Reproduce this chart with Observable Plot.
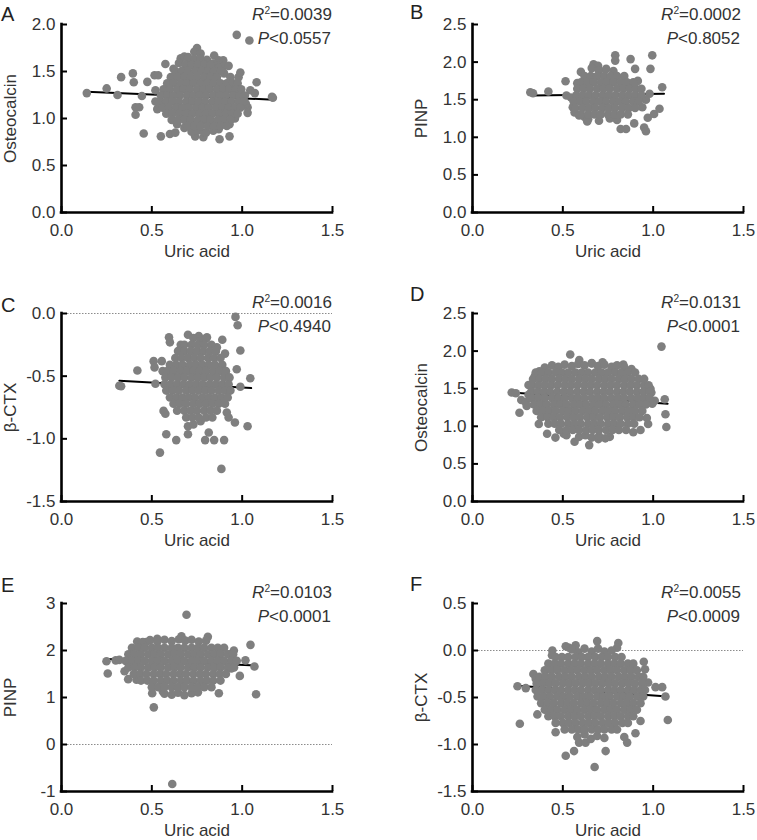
<!DOCTYPE html>
<html>
<head>
<meta charset="utf-8">
<script src="https://cdn.jsdelivr.net/npm/d3@7"></script>
<script src="https://cdn.jsdelivr.net/npm/@observablehq/plot@0.6"></script>
<style>
html,body{margin:0;padding:0;background:#fff;overflow:hidden;}
#root{position:relative;width:757px;height:840px;overflow:hidden;font-family:"Liberation Sans",Arial,sans-serif;}
.panel{position:absolute;}
.letter{position:absolute;font-size:20px;line-height:20px;color:#222;}
.stat{position:absolute;font-size:17px;line-height:17px;color:#333;text-align:right;white-space:nowrap;}
.stat sup{font-size:0.6em;line-height:0;vertical-align:0.6em;}
</style>
</head>
<body>
<div id="root"></div>
<script>
// ---------- labels ----------
const panelLetters = ["A", "B", "C", "D", "E", "F"];
const xLabel = "Uric acid";
const yLabels = ["Osteocalcin", "PINP", "β-CTX", "Osteocalcin", "PINP", "β-CTX"];
const r2Values = ["0.0039", "0.0002", "0.0016", "0.0131", "0.0103", "0.0055"];
const pValues = ["0.0557", "0.8052", "0.4940", "0.0001", "0.0001", "0.0009"];

// ---------- axes ----------
const xDomain = [0, 1.5];
const xTicks = [0, 0.5, 1.0, 1.5];
const yDomains = [[0, 2], [0, 2.5], [-1.5, 0], [0, 2.5], [-1, 3], [-1.5, 0.5]];
const yTicksList = [
  [0, 0.5, 1.0, 1.5, 2.0],
  [0, 0.5, 1.0, 1.5, 2.0, 2.5],
  [-1.5, -1.0, -0.5, 0],
  [0, 0.5, 1.0, 1.5, 2.0, 2.5],
  [-1, 0, 1, 2, 3],
  [-1.5, -1.0, -0.5, 0, 0.5]
];
const zeroLine = [false, false, true, false, true, true];

// ---------- regression lines (endpoints) ----------
const fitA = [[0.14, 1.285], [1.175, 1.20]];
const fitB = [[0.33, 1.555], [1.06, 1.578]];
const fitC = [[0.32, -0.536], [1.05, -0.595]];
const fitD = [[0.217, 1.45], [1.08, 1.30]];
const fitE = [[0.25, 1.82], [1.08, 1.68]];
const fitF = [[0.25, -0.375], [1.08, -0.49]];

// ---------- individually read points [uric acid, marker] ----------
const outA = [[0.14,1.27],[0.25,1.32],[0.31,1.25],[0.33,1.44],[0.395,1.48],[0.40,1.385],[0.41,1.12],[0.43,1.12],[0.41,1.04],[0.445,1.24],[0.455,0.84],[0.475,1.39],[0.515,1.46],[0.535,1.46],[0.52,1.30],[0.55,0.81],[0.60,0.835],[0.63,0.85],[0.575,1.58],[0.66,1.64],[0.68,1.66],[0.75,1.75],[0.72,0.89],[0.74,0.81],[0.81,1.60],[0.845,1.67],[0.87,1.62],[0.895,1.62],[0.90,1.56],[0.925,1.56],[0.97,1.89],[1.04,1.83],[0.875,0.78],[0.93,0.81],[0.785,0.80],[0.795,0.85],[1.03,1.12],[1.03,1.06],[1.045,1.30],[1.08,1.385],[1.07,1.27],[1.165,1.23],[1.17,1.22],[0.98,1.44],[0.99,1.49],[0.53,1.10],[0.52,1.18],[1.02,1.16],
  [0.735,1.71],[0.77,1.69],[0.70,1.655],[0.805,1.625],[0.65,1.59],[0.84,1.585],[0.62,1.53],[0.87,1.54],[0.90,1.48],
  [0.72,0.86],[0.76,0.875],[0.80,0.85],[0.84,0.87],[0.87,0.885],[0.68,0.90],[0.64,0.94],[0.93,0.94],[0.96,1.00]];
const outB = [[0.32,1.60],[0.335,1.585],[0.42,1.61],[0.515,1.745],[0.52,1.555],[0.545,1.53],[0.59,1.29],[0.635,1.21],[0.60,1.87],[0.62,1.75],[0.67,1.97],[0.695,1.95],[0.79,2.09],[0.79,2.02],[0.875,2.04],[0.90,1.91],[0.995,2.09],[0.985,1.91],[0.82,1.11],[0.85,1.11],[0.895,1.185],[0.95,1.13],[0.96,1.08],[0.97,1.26],[1.005,1.31],[1.035,1.38],[1.05,1.665],[0.98,1.58],[0.775,1.27],[0.96,1.50],[0.94,1.40],[0.555,1.40],[0.565,1.33],[0.62,1.27],
  [0.66,1.92],[0.70,1.89],[0.74,1.91],[0.78,1.88],[0.64,1.24],[0.70,1.22],[0.76,1.25],[0.80,1.23],[0.58,1.72],[0.915,1.75]];
const outC = [[0.32,-0.576],[0.33,-0.58],[0.42,-0.455],[0.51,-0.38],[0.515,-0.43],[0.52,-0.56],[0.565,-0.777],[0.575,-0.80],[0.58,-0.964],[0.635,-1.01],[0.545,-1.11],[0.70,-0.964],[0.70,-0.90],[0.795,-1.01],[0.845,-1.01],[0.815,-0.95],[0.90,-1.01],[0.885,-1.24],[0.96,-0.87],[1.03,-0.90],[0.963,-0.027],[0.975,-0.094],[0.99,-0.295],[0.97,-0.445],[1.045,-0.517],[0.99,-0.584],[0.595,-0.19],[0.60,-0.23],[0.70,-0.17],[0.76,-0.18],[0.805,-0.19],[0.89,-0.21],[0.905,-0.32],[0.915,-0.79],[0.925,-0.83],[0.555,-0.38],[0.56,-0.46],
  [0.73,-0.195],[0.77,-0.215],[0.80,-0.20],[0.73,-0.885],[0.77,-0.86],[0.66,-0.25],[0.86,-0.27]];
const outD = [[0.217,1.45],[0.24,1.44],[0.26,1.18],[0.27,1.35],[0.294,1.32],[0.30,1.27],[0.31,1.42],[0.367,1.03],[0.413,0.90],[0.459,0.85],[0.505,0.90],[0.52,0.88],[0.565,0.795],[0.646,0.75],[0.541,1.955],[0.591,1.88],[0.66,1.84],[0.72,1.85],[0.835,1.82],[0.88,1.76],[1.046,2.06],[1.064,1.36],[1.068,1.16],[1.073,0.99],[1.009,1.34],[0.972,1.03],[0.89,0.92],[0.697,0.83],[0.76,0.86],[0.93,0.95],[0.995,1.30],[0.965,1.11],[0.37,1.73],[0.345,1.67],
  [0.40,1.78],[0.44,1.81],[0.475,1.79],[0.51,1.82],[0.55,1.80],[0.585,1.83],[0.62,1.81],[0.66,1.835],[0.695,1.80],[0.73,1.82],[0.77,1.79],[0.80,1.81],[0.84,1.785],[0.59,0.86],[0.625,0.88],[0.66,0.85],[0.70,0.87],[0.735,0.84],[0.31,1.55],[0.32,1.38],[0.99,1.45],[0.985,1.50]];
const outE = [[0.249,1.77],[0.256,1.51],[0.30,1.79],[0.32,1.80],[0.349,1.56],[0.369,1.39],[0.415,1.38],[0.419,2.19],[0.469,2.18],[0.502,1.09],[0.511,0.79],[0.561,1.13],[0.613,-0.84],[0.692,2.76],[0.664,2.30],[0.81,2.29],[0.871,1.09],[0.954,2.0],[0.987,1.46],[1.018,1.79],[1.046,2.12],[1.068,1.66],[1.077,1.07],[0.53,2.25],[0.94,1.62],[0.93,1.92],[0.96,1.78],
  [0.45,2.18],[0.49,2.22],[0.53,2.19],[0.57,2.23],[0.61,2.20],[0.65,2.24],[0.685,2.21],[0.72,2.23],[0.76,2.19],[0.80,2.21],[0.57,1.08],[0.61,1.06],[0.645,1.10],[0.68,1.05],[0.72,1.09],[0.755,1.11]];
const outF = [[0.249,-0.38],[0.295,-0.40],[0.262,-0.78],[0.337,-0.25],[0.35,-0.30],[0.387,-0.30],[0.359,-0.68],[0.442,0.0],[0.44,-0.05],[0.516,0.045],[0.535,0.03],[0.571,0.055],[0.69,0.10],[0.807,0.08],[0.80,0.03],[0.516,-1.12],[0.562,-1.07],[0.676,-1.24],[0.737,-1.07],[0.856,-0.98],[0.902,-0.88],[0.948,-0.12],[0.955,-0.20],[0.972,-0.34],[1.013,-0.39],[1.05,-0.39],[1.068,-0.49],[1.081,-0.74],[0.59,-0.98],[0.626,-0.98],[0.46,-0.87],[0.93,-0.75],[0.84,-0.92],
  [0.55,0.01],[0.585,-0.02],[0.62,0.02],[0.66,-0.01],[0.695,0.02],[0.73,-0.01],[0.77,0.0],[0.58,-0.92],[0.62,-0.89],[0.655,-0.94],[0.69,-0.91],[0.73,-0.93]];

// ---------- dense cores: [marker value, [uric acid values...]] ----------
const blobA = [
  [1.635,[0.70,0.735,0.77]],
  [1.57,[0.685,0.72,0.755,0.79,0.825]],
  [1.505,[0.63,0.665,0.70,0.74,0.775,0.81,0.845,0.88]],
  [1.44,[0.605,0.64,0.68,0.715,0.75,0.79,0.825,0.86,0.935]],
  [1.375,[0.585,0.62,0.66,0.695,0.73,0.77,0.805,0.84,0.88,0.915,0.95,0.975]],
  [1.31,[0.565,0.60,0.64,0.675,0.71,0.75,0.785,0.82,0.86,0.895,0.93,0.965,0.995]],
  [1.245,[0.55,0.585,0.62,0.655,0.695,0.73,0.765,0.80,0.84,0.875,0.91,0.95,0.985,1.015]],
  [1.18,[0.545,0.58,0.615,0.65,0.69,0.725,0.76,0.795,0.835,0.87,0.905,0.94,0.98,1.01]],
  [1.115,[0.56,0.595,0.635,0.67,0.705,0.745,0.78,0.815,0.855,0.89,0.925,0.96,0.99]],
  [1.05,[0.58,0.615,0.655,0.69,0.725,0.765,0.80,0.835,0.875,0.91,0.945,0.975]],
  [0.985,[0.61,0.645,0.68,0.715,0.755,0.79,0.825,0.865,0.90,0.935]],
  [0.92,[0.70,0.735,0.77,0.81,0.845,0.88,0.915]]
];
const blobB = [
  [1.815,[0.62,0.655,0.69,0.73,0.765,0.80,0.84]],
  [1.73,[0.60,0.635,0.67,0.71,0.745,0.78,0.82,0.855,0.89]],
  [1.645,[0.58,0.615,0.65,0.69,0.725,0.76,0.80,0.835,0.87,0.905,0.935]],
  [1.56,[0.575,0.61,0.645,0.68,0.72,0.755,0.79,0.83,0.865,0.90,0.935]],
  [1.475,[0.56,0.595,0.63,0.67,0.705,0.74,0.78,0.815,0.85,0.89,0.92]],
  [1.39,[0.57,0.61,0.645,0.68,0.72,0.755,0.79,0.83,0.865,0.90]],
  [1.305,[0.60,0.64,0.675,0.71,0.75,0.785,0.82,0.86]]
];
const blobC = [
  [-0.25,[0.68,0.72,0.755,0.79,0.83]],
  [-0.30,[0.645,0.68,0.715,0.75,0.785,0.82,0.855]],
  [-0.355,[0.63,0.665,0.70,0.735,0.77,0.81,0.845,0.88]],
  [-0.41,[0.60,0.635,0.67,0.71,0.745,0.78,0.815,0.85,0.89]],
  [-0.46,[0.585,0.62,0.66,0.695,0.73,0.765,0.80,0.84,0.875,0.91]],
  [-0.51,[0.575,0.61,0.645,0.68,0.72,0.755,0.79,0.825,0.86,0.90,0.93]],
  [-0.565,[0.57,0.605,0.64,0.675,0.71,0.745,0.78,0.82,0.855,0.89,0.925]],
  [-0.615,[0.58,0.615,0.65,0.69,0.725,0.76,0.795,0.83,0.87,0.905,0.935]],
  [-0.67,[0.60,0.635,0.67,0.705,0.74,0.78,0.815,0.85,0.885,0.92]],
  [-0.72,[0.62,0.655,0.69,0.73,0.765,0.80,0.835,0.87,0.905]],
  [-0.775,[0.64,0.68,0.715,0.75,0.79,0.825,0.86]],
  [-0.83,[0.69,0.725,0.76,0.80,0.835]]
];
const blobD = [
  [1.715,[0.35,0.385,0.42,0.46,0.495,0.53,0.57,0.605,0.64,0.68,0.715,0.75,0.79,0.825,0.86,0.90]],
  [1.63,[0.335,0.37,0.405,0.44,0.48,0.515,0.55,0.59,0.625,0.66,0.70,0.735,0.77,0.81,0.845,0.88,0.92,0.95]],
  [1.545,[0.33,0.365,0.40,0.435,0.47,0.51,0.545,0.58,0.62,0.655,0.69,0.73,0.765,0.80,0.84,0.875,0.91,0.95,0.975]],
  [1.46,[0.325,0.36,0.395,0.43,0.47,0.505,0.54,0.58,0.615,0.65,0.69,0.725,0.76,0.80,0.835,0.87,0.91,0.945,0.98]],
  [1.375,[0.33,0.365,0.40,0.44,0.475,0.51,0.55,0.585,0.62,0.66,0.695,0.73,0.77,0.805,0.84,0.88,0.915,0.95,0.98]],
  [1.29,[0.34,0.375,0.41,0.45,0.485,0.52,0.56,0.595,0.63,0.67,0.705,0.74,0.78,0.815,0.85,0.89,0.925,0.96]],
  [1.205,[0.355,0.39,0.425,0.46,0.50,0.535,0.57,0.61,0.645,0.68,0.72,0.755,0.79,0.83,0.865,0.90,0.94]],
  [1.12,[0.38,0.415,0.45,0.485,0.525,0.56,0.595,0.635,0.67,0.705,0.745,0.78,0.815,0.855,0.89,0.925]],
  [1.035,[0.42,0.455,0.49,0.53,0.565,0.60,0.64,0.675,0.71,0.75,0.785,0.82,0.86,0.895]],
  [0.95,[0.48,0.52,0.555,0.59,0.63,0.665,0.70,0.74,0.775,0.81,0.85]]
];
const blobE = [
  [2.06,[0.39,0.425,0.46,0.50,0.535,0.57,0.61,0.645,0.68,0.72,0.755,0.79,0.83,0.865,0.90]],
  [1.92,[0.37,0.405,0.44,0.48,0.515,0.55,0.59,0.625,0.66,0.70,0.735,0.77,0.81,0.845,0.88,0.92,0.95]],
  [1.78,[0.355,0.39,0.425,0.46,0.50,0.535,0.57,0.61,0.645,0.68,0.72,0.755,0.79,0.83,0.865,0.90,0.94,0.97]],
  [1.64,[0.37,0.405,0.44,0.48,0.515,0.55,0.59,0.625,0.66,0.70,0.735,0.77,0.81,0.845,0.88,0.92,0.955]],
  [1.50,[0.40,0.435,0.47,0.51,0.545,0.58,0.62,0.655,0.69,0.73,0.765,0.80,0.84,0.875,0.91]],
  [1.36,[0.44,0.475,0.51,0.55,0.585,0.62,0.66,0.695,0.73,0.77,0.805,0.84,0.88]],
  [1.22,[0.50,0.535,0.57,0.61,0.645,0.68,0.72,0.755,0.79,0.83]]
];
const blobF = [
  [-0.07,[0.46,0.495,0.53,0.57,0.605,0.64,0.68,0.715,0.75,0.79,0.825]],
  [-0.14,[0.42,0.455,0.49,0.53,0.565,0.60,0.64,0.675,0.71,0.75,0.785,0.82,0.86,0.89]],
  [-0.21,[0.40,0.435,0.47,0.51,0.545,0.58,0.62,0.655,0.69,0.73,0.765,0.80,0.84,0.875,0.91]],
  [-0.28,[0.37,0.405,0.44,0.48,0.515,0.55,0.59,0.625,0.66,0.70,0.735,0.77,0.81,0.845,0.88,0.92,0.945]],
  [-0.35,[0.355,0.39,0.425,0.46,0.50,0.535,0.57,0.61,0.645,0.68,0.72,0.755,0.79,0.83,0.865,0.90,0.94]],
  [-0.42,[0.35,0.385,0.42,0.455,0.49,0.53,0.565,0.60,0.64,0.675,0.71,0.75,0.785,0.82,0.86,0.895,0.93,0.955]],
  [-0.49,[0.36,0.395,0.43,0.47,0.505,0.54,0.58,0.615,0.65,0.69,0.725,0.76,0.80,0.835,0.87,0.91,0.945]],
  [-0.56,[0.38,0.415,0.45,0.49,0.525,0.56,0.60,0.635,0.67,0.71,0.745,0.78,0.82,0.855,0.89,0.93]],
  [-0.63,[0.40,0.435,0.47,0.51,0.545,0.58,0.62,0.655,0.69,0.73,0.765,0.80,0.84,0.875,0.91]],
  [-0.70,[0.42,0.455,0.49,0.53,0.565,0.60,0.64,0.675,0.71,0.75,0.785,0.82,0.86,0.89]],
  [-0.77,[0.46,0.50,0.535,0.57,0.61,0.645,0.68,0.72,0.755,0.79,0.83,0.86]],
  [-0.84,[0.51,0.55,0.585,0.62,0.66,0.695,0.73,0.77,0.80]]
];

const outliers = [outA, outB, outC, outD, outE, outF];
const blobs = [blobA, blobB, blobC, blobD, blobE, blobF];
const fits = [fitA, fitB, fitC, fitD, fitE, fitF];

// ---------- layout ----------
const colLeft = [0, 411];
const rowTop = [0, 289, 579];
const W = 346, H = 272;
const M = {left: 61, right: 14, top: 24, bottom: 60};
const frameW = W - M.left - M.right, frameH = H - M.top - M.bottom;
const tickLen = 6;
const fontFamily = "'Liberation Sans', Arial, Helvetica, sans-serif";

const root = document.getElementById("root");

for (let i = 0; i < 6; i++) {
  const col = i % 2, row = Math.floor(i / 2);
  const pts = outliers[i].map(([x, y]) => ({x, y}))
    .concat(blobs[i].flatMap(([y, xs]) => xs.map(x => ({x, y}))));
  const yTicks = yTicksList[i];
  const yFmt = i === 4 ? (d => String(d)) : (d => d.toFixed(1));
  const marks = [];
  if (zeroLine[i]) marks.push(Plot.ruleY([0], {stroke: "#8c8c8c", strokeWidth: 1.2, strokeDasharray: "1.5,1.5"}));
  marks.push(Plot.line(fits[i], {x: d => d[0], y: d => d[1], stroke: "#000", strokeWidth: 2}));
  marks.push(Plot.dot(pts, {x: "x", y: "y", r: 4.3, fill: "#7f7f7f"}));
  // inward tick marks
  marks.push(Plot.tickX(xTicks, {x: d => d, stroke: "#000", strokeWidth: 2, insetTop: frameH - tickLen}));
  marks.push(Plot.tickY(yTicks, {y: d => d, stroke: "#000", strokeWidth: 2, insetRight: frameW - tickLen}));
  // axis lines
  marks.push(Plot.ruleX([xDomain[0]], {stroke: "#000", strokeWidth: 2.6, strokeLinecap: "square"}));
  marks.push(Plot.ruleY([yDomains[i][0]], {stroke: "#000", strokeWidth: 2.6, strokeLinecap: "square"}));
  // tick labels + titles
  marks.push(Plot.axisX(xTicks, {tickSize: 0, tickPadding: 11, tickFormat: d => d.toFixed(1), fontSize: 17,
    label: xLabel, labelAnchor: "center", labelOffset: 44.5, labelArrow: "none"}));
  marks.push(Plot.axisY(yTicks, {tickSize: 0, tickPadding: 6, tickFormat: yFmt, fontSize: 17,
    label: yLabels[i], labelAnchor: "center", labelOffset: 58, labelArrow: "none"}));

  const svg = Plot.plot({
    width: W, height: H,
    marginLeft: M.left, marginRight: M.right, marginTop: M.top, marginBottom: M.bottom,
    x: {domain: xDomain},
    y: {domain: yDomains[i]},
    style: {fontFamily, fontSize: "17px", color: "#333", background: "transparent", overflow: "visible"},
    marks
  });
  const div = document.createElement("div");
  div.className = "panel";
  div.style.left = colLeft[col] + "px";
  div.style.top = rowTop[row] + "px";
  div.appendChild(svg);
  root.appendChild(div);

  // panel letter
  const letter = document.createElement("div");
  letter.className = "letter";
  letter.textContent = panelLetters[i];
  letter.style.left = (col === 0 ? 1 : 410) + "px";
  const letterTops = [4.4, 2.4, 295.4, 284.4, 575.4, 574.4];
  letter.style.top = letterTops[i] + "px";
  root.appendChild(letter);

  // statistics
  const statTop = [5.6, 5.6, 294, 294, 584, 584][i];
  const statRight = col === 0 ? 757 - 332 : 757 - 741;
  const r2 = document.createElement("div");
  r2.className = "stat";
  r2.innerHTML = `<i>R</i><sup>2</sup>=${r2Values[i]}`;
  r2.style.right = statRight + "px";
  r2.style.top = statTop + "px";
  root.appendChild(r2);
  const p = document.createElement("div");
  p.className = "stat";
  p.innerHTML = `<i>P</i>&lt;${pValues[i]}`;
  p.style.right = (statRight + 1) + "px";
  p.style.top = (statTop + 24) + "px";
  root.appendChild(p);
}
</script>
</body>
</html>
